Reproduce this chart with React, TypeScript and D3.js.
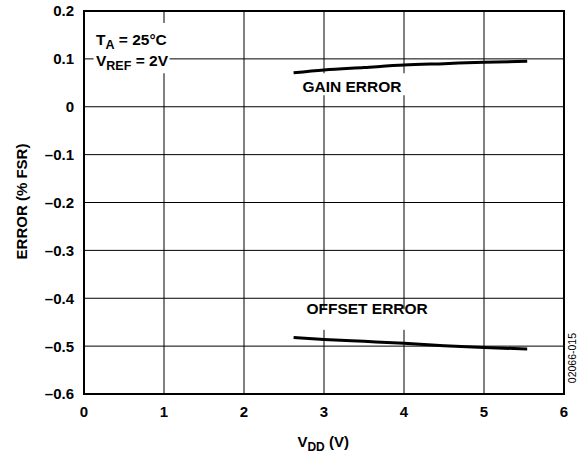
import React from 'react';
import * as d3 from 'd3';

// supply voltage (V)
const vdd = [2.62, 3.0, 3.5, 4.0, 4.5, 5.0, 5.54];
// errors in % FSR
const gainError = [0.071, 0.077, 0.082, 0.087, 0.09, 0.093, 0.095];
const offsetError = [-0.482, -0.486, -0.49, -0.494, -0.499, -0.503, -0.506];

const xTicks = [0, 1, 2, 3, 4, 5, 6];
const yTicks = [0.2, 0.1, 0, -0.1, -0.2, -0.3, -0.4, -0.5, -0.6];

const W = 588;
const H = 459;
const margin = { top: 11, right: 24, bottom: 65, left: 84 };
const FONT = 'Liberation Sans, Arial, Helvetica, sans-serif';

const fmt = (v: number) => {
  if (v === 0) return '0';
  const s = Math.abs(v).toFixed(1);
  return v < 0 ? '\u2013' + s : s;
};

const App: React.FC = () => {
  const x = d3.scaleLinear().domain([0, 6]).range([margin.left, W - margin.right]);
  const y = d3.scaleLinear().domain([-0.6, 0.2]).range([H - margin.bottom, margin.top]);

  const line = d3
    .line<[number, number]>()
    .x((d) => x(d[0]))
    .y((d) => y(d[1]))
    .curve(d3.curveMonotoneX);

  const gainPts = vdd.map((v, i) => [v, gainError[i]] as [number, number]);
  const offPts = vdd.map((v, i) => [v, offsetError[i]] as [number, number]);

  const [x0, x1] = x.range();
  const [y0, y1] = y.range();

  return (
    <svg
      width={W}
      height={H}
      style={{ position: 'absolute', left: 0, top: 0, background: '#fff' }}
      fontFamily={FONT}
      fontWeight="bold"
    >
      {/* grid */}
      {xTicks.map((t) => (
        <line key={'gx' + t} x1={x(t)} x2={x(t)} y1={y1} y2={y0} stroke="#000" strokeWidth={1} />
      ))}
      {yTicks.map((t) => (
        <line key={'gy' + t} x1={x0} x2={x1} y1={y(t)} y2={y(t)} stroke="#000" strokeWidth={1} />
      ))}

      {/* white backing for annotations */}
      <rect x={x(0.12)} y={y(0.175)} width={x(1.07) - x(0.12)} height={y(0.07) - y(0.175)} fill="#fff" />
      <rect x={x(2.7)} y={y(0.07)} width={x(4.02) - x(2.7)} height={y(0.024) - y(0.07)} fill="#fff" />
      <rect x={x(2.75)} y={y(-0.423)} width={x(4.4) - x(2.75)} height={y(-0.466) - y(-0.423)} fill="#fff" />

      {/* frame */}
      <rect x={x0} y={y1} width={x1 - x0} height={y0 - y1} fill="none" stroke="#000" strokeWidth={2} />

      {/* curves */}
      <path d={line(gainPts) || ''} fill="none" stroke="#000" strokeWidth={3} />
      <path d={line(offPts) || ''} fill="none" stroke="#000" strokeWidth={3} />

      {/* y tick labels */}
      {yTicks.map((t) => (
        <text key={'ty' + t} x={x0 - 10} y={y(t)} dy="0.36em" textAnchor="end" fontSize={15}>
          {fmt(t)}
        </text>
      ))}
      {/* x tick labels */}
      {xTicks.map((t) => (
        <text key={'tx' + t} x={x(t)} y={y0 + 23} textAnchor="middle" fontSize={15}>
          {t}
        </text>
      ))}

      {/* axis titles */}
      <text x={x(2.99)} y={H - 12} textAnchor="middle" fontSize={15}>
        V<tspan fontSize={12} dy={4}>DD</tspan>
        <tspan dy={-4}> (V)</tspan>
      </text>
      <text
        transform={`translate(27, ${(y0 + y1) / 2 - 1}) rotate(-90)`}
        textAnchor="middle"
        fontSize={15}
      >
        ERROR (% FSR)
      </text>

      {/* conditions */}
      <text x={x(0.15)} y={y(0.13)} fontSize={15.5}>
        T<tspan fontSize={12.5} dy={4}>A</tspan>
        <tspan dy={-4}> = 25°C</tspan>
      </text>
      <text x={x(0.15)} y={y(0.085)} fontSize={15.5}>
        V<tspan fontSize={12.5} dy={4}>REF</tspan>
        <tspan dy={-4}> = 2V</tspan>
      </text>

      {/* series labels */}
      <text x={x(2.73)} y={y(0.03)} fontSize={15.5}>
        GAIN ERROR
      </text>
      <text x={x(2.78)} y={y(-0.433)} fontSize={15.5}>
        OFFSET ERROR
      </text>

      {/* figure id */}
      <text
        transform={`translate(576, ${y(-0.525)}) rotate(-90)`}
        textAnchor="middle"
        fontSize={10.5}
        fontWeight="normal"
      >
        02066-015
      </text>
    </svg>
  );
};

export default App;
